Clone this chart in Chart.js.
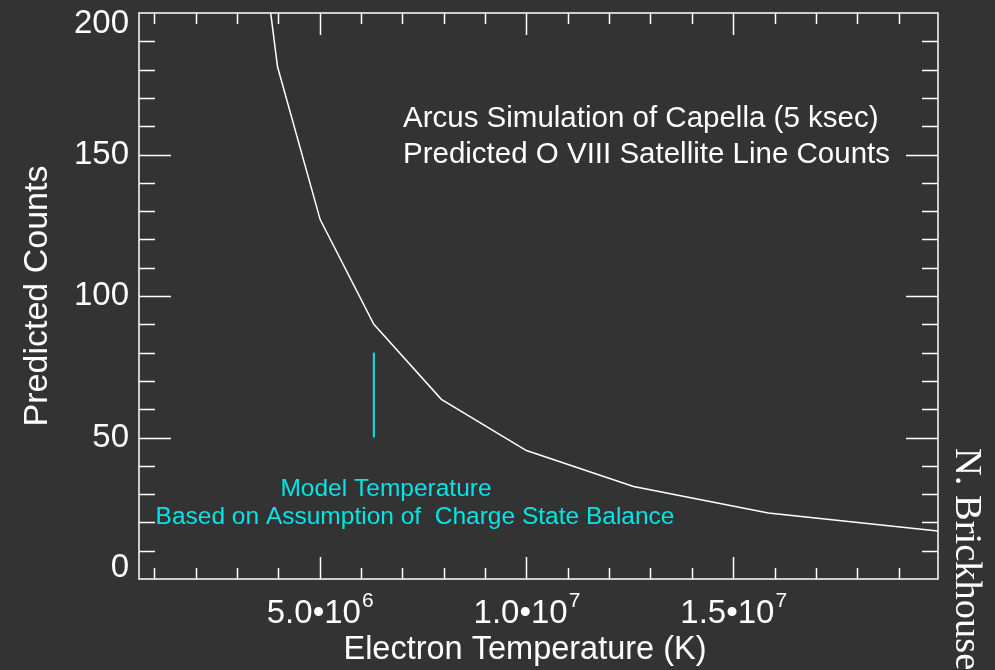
<!DOCTYPE html>
<html>
<head>
<meta charset="utf-8">
<title>Arcus Simulation of Capella</title>
<script src="https://cdn.jsdelivr.net/npm/chart.js@4.4.1/dist/chart.umd.min.js"></script>
<style>
  html, body { margin: 0; padding: 0; background: #333333; }
  #chart { display: block; background: #333333; }
</style>
</head>
<body>
<canvas id="chart" width="995" height="670"></canvas>
<script>
// Electron temperature grid (K), log T = 6.5 ... 7.3
const temperatures = [3.162e6, 3.981e6, 5.012e6, 6.310e6, 7.943e6, 1.000e7, 1.259e7, 1.585e7, 1.995e7];
// Predicted O VIII satellite line counts at each temperature
const predictedCounts = [275, 181, 127, 90, 63.5, 45.4, 32.7, 23.3, 17.0];

// cyan marker for the model temperature
const modelTemp = [6.31e6, 6.31e6];
const modelMarker = [50, 80];

// axes
const xRange = [630957, 19952623]; // 10^5.8 .. 10^7.3
const yRange = [0, 200];
const xMajorTicks = [5e6, 1e7, 1.5e7];
const xTickMantissa = ['5.0', '1.0', '1.5'];
const xTickExponent = ['6', '7', '7'];
const yMajorTicks = [0, 50, 100, 150, 200];

const titleLines = ['Arcus Simulation of Capella (5 ksec)', 'Predicted O VIII Satellite Line Counts'];
const noteLines = ['Model Temperature', 'Based on Assumption of  Charge State Balance'];

const FG = '#ffffff';
const CYAN = '#00e6e6';
const SANS = '"Liberation Sans", Arial, Helvetica, sans-serif';

// IDL style box: frame, inward ticks on all four sides, labels and notes
const idlFrame = {
  id: 'idlFrame',
  afterDraw(chart) {
    const ctx = chart.ctx;
    const a = chart.chartArea;
    const xs = chart.scales.x, ys = chart.scales.y;
    ctx.save();

    // frame + ticks
    ctx.strokeStyle = FG;
    ctx.lineWidth = 1.5;
    ctx.strokeRect(a.left, a.top, a.right - a.left, a.bottom - a.top);
    ctx.beginPath();
    for (let i = 1; i <= 19; i++) {
      const v = i * 1e6;
      const px = Math.round(xs.getPixelForValue(v)) + 0.5;
      const len = xMajorTicks.includes(v) ? 22 : 11;
      ctx.moveTo(px, a.bottom); ctx.lineTo(px, a.bottom - len);
      ctx.moveTo(px, a.top); ctx.lineTo(px, a.top + len);
    }
    for (let v = 10; v < yRange[1]; v += 10) {
      const py = Math.round(ys.getPixelForValue(v)) + 0.5;
      const len = v % 50 === 0 ? 32 : 16;
      ctx.moveTo(a.left, py); ctx.lineTo(a.left + len, py);
      ctx.moveTo(a.right, py); ctx.lineTo(a.right - len, py);
    }
    ctx.stroke();

    ctx.fillStyle = FG;

    // y tick labels (end labels kept inside the box height)
    ctx.font = '33px ' + SANS;
    ctx.textAlign = 'right';
    ctx.textBaseline = 'middle';
    yMajorTicks.forEach(v => {
      let py = ys.getPixelForValue(v);
      py = Math.min(Math.max(py, a.top + 11), a.bottom - 11);
      ctx.fillText(String(v), a.left - 10, py);
    });

    // x tick labels with superscript exponent
    ctx.textBaseline = 'alphabetic';
    ctx.textAlign = 'left';
    xMajorTicks.forEach((v, i) => {
      const base = xTickMantissa[i] + '\u2022' + '10';
      ctx.font = '33px ' + SANS;
      const wb = ctx.measureText(base).width;
      ctx.font = '21px ' + SANS;
      const we = ctx.measureText(xTickExponent[i]).width;
      const x0 = xs.getPixelForValue(v) - (wb + we) / 2;
      ctx.font = '33px ' + SANS;
      ctx.fillText(base, x0, a.bottom + 44);
      ctx.font = '21px ' + SANS;
      ctx.fillText(xTickExponent[i], x0 + wb + 1, a.bottom + 28);
    });

    // axis titles
    ctx.font = '32.5px ' + SANS;
    ctx.textAlign = 'center';
    ctx.fillText('Electron Temperature (K)', 525, 659);
    ctx.save();
    ctx.font = '34px ' + SANS;
    ctx.translate(47, (a.top + a.bottom) / 2);
    ctx.rotate(-Math.PI / 2);
    ctx.fillText('Predicted Counts', 0, 0);
    ctx.restore();

    // plot title inside the box
    ctx.font = '29.5px ' + SANS;
    ctx.textAlign = 'left';
    ctx.fillText(titleLines[0], 403, 127);
    ctx.fillText(titleLines[1], 403, 163);

    // model temperature note
    ctx.fillStyle = CYAN;
    ctx.font = '24.5px ' + SANS;
    ctx.textAlign = 'center';
    ctx.fillText(noteLines[0], 386, 496);
    ctx.fillText(noteLines[1], 415, 524);

    // author credit, rotated
    ctx.fillStyle = FG;
    ctx.font = '38.5px "Liberation Serif", "Times New Roman", serif';
    ctx.textAlign = 'left';
    ctx.translate(956, 448);
    ctx.rotate(Math.PI / 2);
    ctx.fillText('N. Brickhouse', 0, 0);

    ctx.restore();
  }
};

new Chart(document.getElementById('chart'), {
  type: 'line',
  data: {
    datasets: [
      {
        label: 'Predicted counts',
        data: temperatures.map((t, i) => ({ x: t, y: predictedCounts[i] })),
        borderColor: FG,
        borderWidth: 1.5,
        pointRadius: 0,
        tension: 0
      },
      {
        label: 'Model temperature',
        data: modelTemp.map((t, i) => ({ x: t, y: modelMarker[i] })),
        borderColor: CYAN,
        borderWidth: 2,
        pointRadius: 0
      }
    ]
  },
  options: {
    responsive: false,
    animation: false,
    devicePixelRatio: 1,
    layout: { padding: { top: 13, right: 57, left: 0, bottom: 0 } },
    plugins: { legend: { display: false }, tooltip: { enabled: false } },
    scales: {
      x: {
        type: 'linear',
        min: xRange[0],
        max: xRange[1],
        grid: { display: false },
        border: { display: false },
        ticks: { display: false },
        afterFit(scale) { scale.height = 91; }
      },
      y: {
        min: yRange[0],
        max: yRange[1],
        grid: { display: false },
        border: { display: false },
        ticks: { display: false },
        afterFit(scale) { scale.width = 139; }
      }
    }
  },
  plugins: [idlFrame]
});
</script>
</body>
</html>
